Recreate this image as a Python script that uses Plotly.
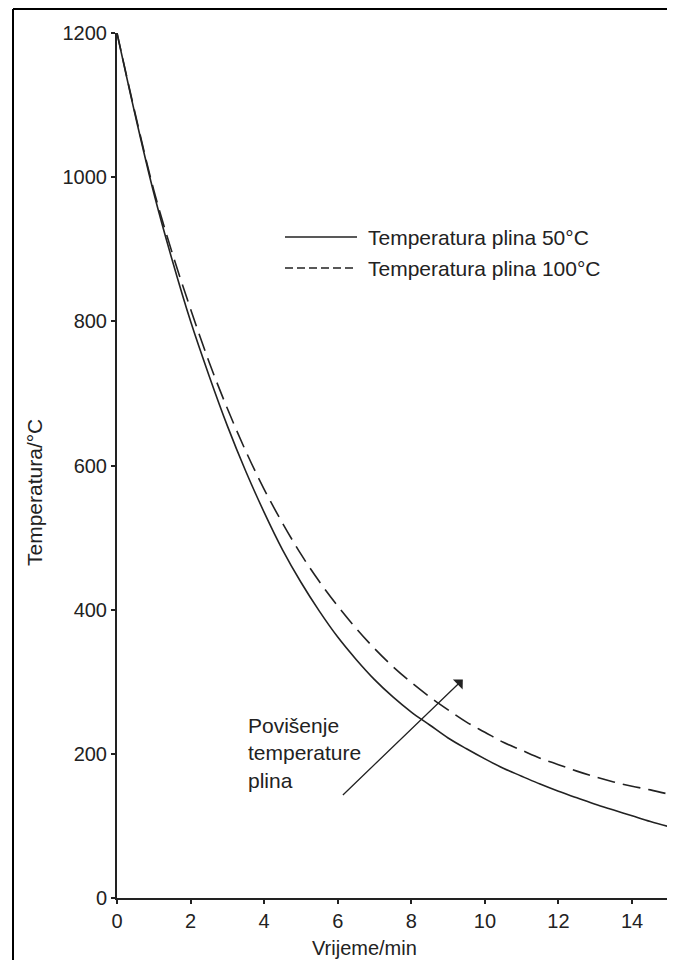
import plotly.graph_objects as go

# Data
time_min = [0, 0.5, 1, 1.5, 2, 2.5, 3, 3.5, 4, 4.5, 5, 5.5, 6, 6.5, 7, 7.5,
            8, 8.5, 9, 9.5, 10, 10.5, 11, 11.5, 12, 12.5, 13, 13.5, 14, 14.5, 15]
temp_gas_50 = [1200, 1085, 978, 885, 800, 725, 655, 592, 535, 483, 438, 398,
               362, 331, 303, 279, 258, 240, 222, 207, 193, 180, 169, 158,
               148, 139, 130, 122, 114, 106, 99]
temp_gas_100 = [1200, 1087, 982, 895, 817, 744, 679, 620, 567, 520, 477, 439,
                405, 374, 346, 321, 299, 279, 261, 244, 230, 216, 205, 194,
                185, 176, 168, 161, 155, 150, 144]
series_names = ["Temperatura plina 50°C", "Temperatura plina 100°C"]
x_ticks = [0, 2, 4, 6, 8, 10, 12, 14]
y_ticks = [0, 200, 400, 600, 800, 1000, 1200]
arrow_tail = (6.1, 141)
arrow_head = (9.4, 303)

FONT = "Liberation Sans, Arial, sans-serif"
INK = "#222222"

fig = go.Figure()
fig.add_trace(go.Scatter(x=time_min, y=temp_gas_50, mode="lines", name=series_names[0],
                         line=dict(color=INK, width=1.6, shape="spline"), showlegend=False))
fig.add_trace(go.Scatter(x=time_min, y=temp_gas_100, mode="lines", name=series_names[1],
                         line=dict(color=INK, width=1.6, dash="18px,8px", shape="spline"),
                         showlegend=False))

# page has an 8px body margin; figure sized to fit the window
OFF = 8
W, H = 659, 952
L, R, T, B = 109, 0, 25, 62
pw, ph = W - L - R, H - T - B

def px(xp):
    return (xp - OFF - L) / pw

def py(yp):
    return (H - B - (yp - OFF)) / ph

shapes = [
    # outer frame (left and top edges visible)
    dict(type="line", xref="paper", yref="paper", x0=px(13), x1=px(13), y0=py(9), y1=py(1000),
         line=dict(color="black", width=2)),
    dict(type="line", xref="paper", yref="paper", x0=px(13), x1=px(700), y0=py(9), y1=py(9),
         line=dict(color="black", width=2)),
    # legend samples
    dict(type="line", xref="paper", yref="paper", x0=px(285), x1=px(357), y0=py(237), y1=py(237),
         line=dict(color=INK, width=1.6)),
    dict(type="line", xref="paper", yref="paper", x0=px(285), x1=px(357), y0=py(268), y1=py(268),
         line=dict(color=INK, width=1.6, dash="8px,4px")),
]

annotations = [
    dict(xref="paper", yref="paper", x=px(366), y=py(237), text=series_names[0], showarrow=False,
         xanchor="left", yanchor="middle", font=dict(family=FONT, size=21, color=INK)),
    dict(xref="paper", yref="paper", x=px(366), y=py(268), text=series_names[1], showarrow=False,
         xanchor="left", yanchor="middle", font=dict(family=FONT, size=21, color=INK)),
    dict(xref="paper", yref="paper", x=px(246), y=py(753),
         text="Povišenje<br>temperature<br>plina", showarrow=False, align="left",
         xanchor="left", yanchor="middle", font=dict(family=FONT, size=21, color=INK)),
    dict(x=arrow_head[0], y=arrow_head[1], ax=arrow_tail[0], ay=arrow_tail[1],
         xref="x", yref="y", axref="x", ayref="y", text="", showarrow=True,
         arrowhead=1, arrowsize=1.8, arrowwidth=1.3, arrowcolor=INK),
    # axis titles
    dict(xref="paper", yref="paper", x=px(364), y=py(948), text="Vrijeme/min", showarrow=False,
         xanchor="center", yanchor="middle", font=dict(family=FONT, size=20, color=INK)),
    dict(xref="paper", yref="paper", x=px(35), y=py(493), text="Temperatura/°C", showarrow=False,
         textangle=-90, xanchor="center", yanchor="middle", font=dict(family=FONT, size=21, color=INK)),
]

fig.update_layout(
    width=W, height=H,
    margin=dict(l=L, r=R, t=T, b=B, pad=0),
    paper_bgcolor="white", plot_bgcolor="white",
    shapes=shapes, annotations=annotations,
    font=dict(family=FONT, size=20, color=INK),
)
fig.update_xaxes(range=[0, 14.95], tickvals=x_ticks, ticks="outside", ticklen=4, tickwidth=1.5,
                 tickcolor=INK, showline=True, linecolor=INK, linewidth=2, showgrid=False,
                 zeroline=False, tickfont=dict(family=FONT, size=20, color=INK))
fig.update_yaxes(range=[0, 1200], tickvals=y_ticks, ticks="outside", ticklen=4, tickwidth=1.5,
                 tickcolor=INK, showline=True, linecolor=INK, linewidth=2, showgrid=False,
                 zeroline=False, tickfont=dict(family=FONT, size=20, color=INK))

fig.write_html("out.html")
